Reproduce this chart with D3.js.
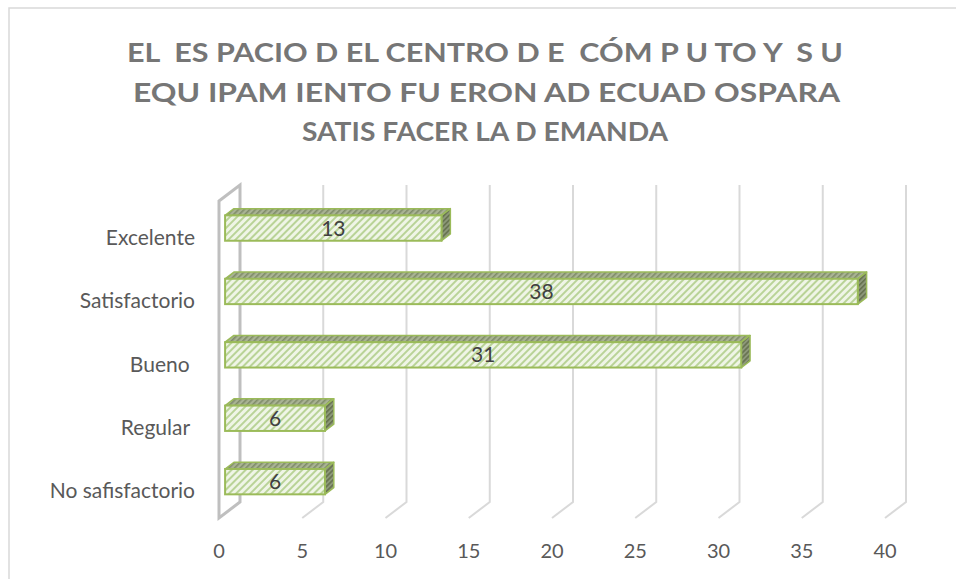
<!DOCTYPE html>
<html>
<head>
<meta charset="utf-8">
<script src="https://cdn.jsdelivr.net/npm/d3@7"></script>
<style>
  body { margin: 0; background: #fff; }
  svg { display: block; }
  text { font-family: Lato, "Open Sans", sans-serif; }
</style>
</head>
<body>
<svg id="svg" width="956" height="579"></svg>
<script>
// data
var categories = ["Excelente", "Satisfactorio", "Bueno ", "Regular ", "No safisfactorio"];
var values = [13, 38, 31, 6, 6];
var ticks = [0, 5, 10, 15, 20, 25, 30, 35, 40];
var titleLines = [
	"EL  ES PACIO D EL CENTRO D E  CÓM P U TO Y  S U",
	"EQU IPAM IENTO FU ERON AD ECUAD OSPARA",
	"SATIS FACER LA D EMANDA"
];

var svg = d3.select("svg"),
	width = +svg.attr("width"),
	height = +svg.attr("height");

// 3d depth offset of the plot box
var DX = 21, DY = -16;
var x = d3.scaleLinear().domain([0, 40]).range([219, 885]);
var y = d3.scaleBand().domain(categories).range([201, 518]);

// bar sits in middle of depth
var f0 = 0.29, f1 = 0.71;
var barH = y.bandwidth() * 0.40;

// outer border (only left + top visible)
svg.append("rect")
	.attr("x", 9).attr("y", 8)
	.attr("width", 1000).attr("height", 700)
	.style("fill", "none")
	.style("stroke", "#d9d9d9")
	.style("stroke-width", 1.5);

// patterns
var defs = svg.append("defs");
function hatch(id, bg, fg, size, sw) {
	var p = defs.append("pattern")
		.attr("id", id)
		.attr("patternUnits", "userSpaceOnUse")
		.attr("width", size).attr("height", size)
		.attr("patternTransform", "rotate(45)");
	p.append("rect").attr("width", size).attr("height", size).style("fill", bg);
	p.append("rect").attr("width", sw).attr("height", size).style("fill", fg);
}
hatch("front", "#eff5e6", "#b9d397", 5, 2);
hatch("top", "#a9b394", "#7f8c69", 4, 1.6);
hatch("side", "#8d987a", "#66724f", 3.5, 1.6);

// title
svg.append("g")
	.selectAll("text")
	.data(titleLines)
	.enter().append("text")
	.attr("x", function (d, i) { return [127, 133, 302][i]; })
	.attr("y", function (d, i) { return 62 + i * 39.5; })
	.attr("textLength", function (d, i) { return [716, 707, 366][i]; })
	.attr("lengthAdjust", "spacingAndGlyphs")
	.style("white-space", "pre")
	.style("font-size", "27px")
	.style("font-weight", "bold")
	.style("fill", "#767676")
	.text(function (d) { return d; });

// gridlines on back wall + floor
var grid = svg.append("g")
	.style("stroke", "#d9d9d9")
	.style("stroke-width", 2)
	.style("fill", "none");

grid.selectAll("path")
	.data(ticks.slice(1))
	.enter().append("path")
	.attr("d", function (d) {
		var xf = x(d), xb = x(d) + DX;
		return "M" + xb + "," + (201 + DY) + "L" + xb + "," + (518 + DY) + "L" + xf + "," + 518;
	});

// left wall
svg.append("path")
	.attr("d", "M" + x(0) + ",201L" + (x(0) + DX) + "," + (201 + DY) +
		"L" + (x(0) + DX) + "," + (518 + DY) + "L" + x(0) + ",518Z")
	.style("fill", "none")
	.style("stroke", "#bfbfbf")
	.style("stroke-width", 3);

// bars
var bars = svg.append("g")
	.selectAll("g")
	.data(categories)
	.enter().append("g");

function frontY(c) {
	return y(c) + y.bandwidth() / 2 + DY * f0 - barH / 2;
}

bars.each(function (c, i) {
	var g = d3.select(this);
	var ox = DX * f0, oy = DY * f0;
	var dx = DX * (f1 - f0), dy = DY * (f1 - f0);
	var x0 = x(0) + ox, x1 = x(values[i]) + ox;
	var y0 = frontY(c), y1 = y0 + barH;

	// top
	g.append("path")
		.attr("d", "M" + x0 + "," + y0 + "L" + (x0 + dx) + "," + (y0 + dy) +
			"L" + (x1 + dx) + "," + (y0 + dy) + "L" + x1 + "," + y0 + "Z")
		.style("fill", "url(#top)")
		.style("stroke", "#9bbb59").style("stroke-width", 1.5)
		.style("stroke-linejoin", "round");
	// side
	g.append("path")
		.attr("d", "M" + x1 + "," + y0 + "L" + (x1 + dx) + "," + (y0 + dy) +
			"L" + (x1 + dx) + "," + (y1 + dy) + "L" + x1 + "," + y1 + "Z")
		.style("fill", "url(#side)")
		.style("stroke", "#9bbb59").style("stroke-width", 1.5)
		.style("stroke-linejoin", "round");
	// front
	g.append("rect")
		.attr("x", x0).attr("y", y0)
		.attr("width", x1 - x0).attr("height", barH)
		.style("fill", "url(#front)")
		.style("stroke", "#9bbb59").style("stroke-width", 2);
	// value label
	g.append("text")
		.attr("x", (x0 + x1) / 2)
		.attr("y", y0 + barH / 2 + 7.5)
		.attr("text-anchor", "middle")
		.style("font-size", "21px")
		.style("fill", "#404040")
		.text(values[i]);
});

// category labels
svg.append("g")
	.selectAll("text")
	.data(categories)
	.enter().append("text")
	.attr("x", 195)
	.attr("y", function (d) { return y(d) + y.bandwidth() / 2 + 12; })
	.attr("text-anchor", "end")
	.style("white-space", "pre")
	.style("font-size", "21px")
	.style("fill", "#595959")
	.text(function (d) { return d; });

// value axis labels
svg.append("g")
	.selectAll("text")
	.data(ticks)
	.enter().append("text")
	.attr("x", function (d) { return x(d); })
	.attr("y", 558)
	.attr("text-anchor", "middle")
	.style("font-size", "20px")
	.style("fill", "#595959")
	.text(function (d) { return d; });
</script>
</body>
</html>
